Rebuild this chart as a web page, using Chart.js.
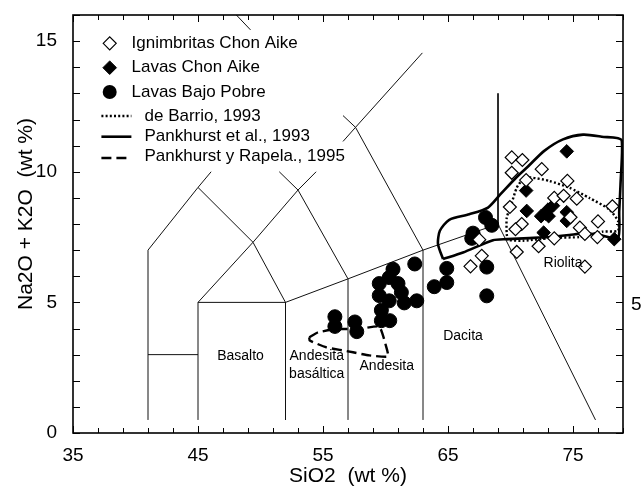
<!DOCTYPE html>
<html>
<head>
<meta charset="utf-8">
<script src="https://cdn.jsdelivr.net/npm/chart.js@4.4.1/dist/chart.umd.min.js"></script>
<style>
  html, body { margin: 0; padding: 0; background: #fff; }
  #wrap { width: 642px; height: 489px; }
</style>
</head>
<body>
<div id="wrap"><canvas id="tas"></canvas></div>
<script>
const xTickLabels = [35, 45, 55, 65, 75];
const yTickLabels = [0, 5, 10, 15];

// samples, [SiO2, Na2O + K2O]
const ignimbritasChonAike = [
  [70.1, 10.55], [70.95, 10.45], [70.1, 9.96], [72.5, 10.1], [71.25, 9.68], [74.55, 9.65],
  [69.95, 8.65], [70.9, 8.0], [70.4, 7.8], [70.5, 6.93], [73.5, 9.0], [74.25, 9.08],
  [75.3, 8.97], [78.15, 8.68], [77.0, 8.1], [74.8, 8.26], [73.5, 7.45], [72.25, 7.15],
  [75.55, 7.86], [75.95, 7.62], [76.95, 7.5], [75.95, 6.37], [66.8, 6.38], [67.7, 6.78],
  [67.5, 7.4]
];
const lavasChonAike = [
  [74.5, 10.78], [71.25, 9.28], [71.3, 8.5], [72.45, 8.3], [73.0, 8.55], [73.4, 8.7],
  [73.05, 8.3], [74.5, 8.45], [74.5, 8.12], [72.65, 7.67], [78.3, 7.42], [72.8, 8.4]
];
const lavasBajoPobre = [
  [55.95, 4.45], [55.95, 4.08], [57.55, 4.25], [57.7, 3.88], [60.6, 6.27], [62.34, 6.47],
  [59.5, 5.72], [61.0, 5.72], [59.5, 5.26], [61.27, 5.38], [60.3, 5.06], [61.5, 4.98],
  [62.5, 5.06], [59.67, 4.7], [59.67, 4.3], [60.34, 4.3], [60.3, 5.95], [63.9, 5.6],
  [64.9, 5.76], [64.9, 6.3], [66.9, 7.45], [67.0, 7.65], [68.0, 8.25], [68.5, 7.95],
  [68.1, 6.35], [68.1, 5.25]
];

// outlines of earlier work
const deBarrio1993 = [
  [69.8, 7.38], [69.7, 7.61], [69.7, 8.24], [70.07, 8.76], [70.5, 9.39], [71.0, 9.71],
  [71.6, 9.78], [73.1, 9.65], [74.7, 9.39], [76.3, 9.0], [77.9, 8.56], [78.6, 8.12],
  [78.6, 7.74], [77.4, 7.71], [75.5, 7.5], [73.7, 7.48], [71.0, 7.36], [69.8, 7.38]
];
const pankhurst1993 = [
  [64.6, 6.66], [64.2, 7.23], [64.35, 7.74], [65.1, 8.16], [66.7, 8.37], [68.2, 8.63],
  [69.2, 9.14], [70.5, 9.8], [71.4, 10.2], [72.7, 10.8], [74.2, 11.24], [75.8, 11.42],
  [77.3, 11.34], [78.9, 11.2], [78.8, 9.5], [78.7, 8.5], [78.6, 7.45], [77.4, 7.55],
  [76.1, 7.64], [74.7, 7.58], [73.1, 7.5], [71.5, 7.46], [69.7, 7.42], [68.6, 7.38],
  [66.2, 6.91], [64.6, 6.66]
];
const pankhurstRapela1995 = [
  [53.9, 3.66], [54.6, 3.85], [56.07, 3.98], [57.9, 3.98], [59.5, 4.07], [60.07, 3.28],
  [60.2, 2.93], [58.7, 2.97], [57.4, 3.09], [55.27, 3.28], [53.94, 3.54], [53.9, 3.66]
];

// TAS field boundaries (visible parts, the legend hides the rest)
const tasLines = [
  [[41, 0.5], [41, 7], [45, 9.4], [46.05, 10.0]],
  [[41, 3], [45, 3]],
  [[45, 0.5], [45, 5], [52, 5], [52, 0.5]],
  [[45, 9.4], [49.4, 7.3], [52, 5]],
  [[45, 5], [49.4, 7.3], [53, 9.3], [54.45, 10.0]],
  [[51.5, 10.0], [53, 9.3], [57, 5.9]],
  [[52, 5], [57, 5.9], [63, 7], [69, 8]],
  [[57, 0.5], [57, 5.9]],
  [[63, 0.5], [63, 7]],
  [[63, 7], [57.6, 11.7], [56.6, 12.15]],
  [[56.6, 11.16], [57.6, 11.7], [62.95, 14.55]],
  [[48.07, 16], [49.2, 15.43]],
  [[69, 13], [69, 8], [76.8, 0.5]]
];

const fieldNames = ["Basalto", ["Andesita", "basáltica"], "Andesita", "Dacita", "Riolita"];

const FONT = "'Liberation Sans', Arial, Helvetica, sans-serif";
Chart.defaults.font.family = FONT;
Chart.defaults.color = "#000";

const pts = (arr) => arr.map(([x, y]) => ({ x, y }));

const datasets = [
  {
    label: "Ignimbritas Chon Aike", data: pts(ignimbritasChonAike), order: 0,
    pointStyle: "rectRot", pointRadius: 6.5, backgroundColor: "#fff", borderColor: "#000", borderWidth: 1.2,
  },
  {
    label: "Lavas Chon Aike", data: pts(lavasChonAike), order: 0,
    pointStyle: "rectRot", pointRadius: 6.8, backgroundColor: "#000", borderColor: "#000", borderWidth: 1,
  },
  {
    label: "Lavas Bajo Pobre", data: pts(lavasBajoPobre), order: 0,
    pointStyle: "circle", pointRadius: 7, backgroundColor: "#000", borderColor: "#000", borderWidth: 1,
  },
  {
    label: "de Barrio, 1993", data: pts(deBarrio1993), order: 1, showLine: true, pointRadius: 0,
    borderColor: "#000", borderWidth: 2.4, borderDash: [2, 2.2], tension: 0.2,
  },
  {
    label: "Pankhurst et al., 1993", data: pts(pankhurst1993), order: 1, showLine: true, pointRadius: 0,
    borderColor: "#000", borderWidth: 2.6, tension: 0.25,
  },
  {
    label: "Pankhurst y Rapela., 1995", data: pts(pankhurstRapela1995), order: 1, showLine: true, pointRadius: 0,
    borderColor: "#000", borderWidth: 2.4, borderDash: [10, 5], tension: 0.15,
  },
  ...tasLines.map((seg) => ({
    label: "", data: pts(seg), order: 2, showLine: true, pointRadius: 0,
    borderColor: "#111", borderWidth: 1, isField: true,
  })),
];

const fieldLabelAt = [[48.4, 2.93], [54.5, 2.96], [60.1, 2.55], [66.2, 3.72], [74.2, 6.5]];

const framePlugin = {
  id: "frame",
  afterDatasetsDraw(chart) {
    const { ctx, chartArea: a, scales: { x, y } } = chart;
    ctx.save();
    ctx.strokeStyle = "#000";
    ctx.lineWidth = 1;
    x.ticks.forEach((t) => {
      const px = Math.round(x.getPixelForValue(t.value)) + 0.5;
      const len = xTickLabels.includes(t.value) ? 7 : 5;
      ctx.beginPath();
      ctx.moveTo(px, a.bottom); ctx.lineTo(px, a.bottom - len);
      ctx.moveTo(px, a.top); ctx.lineTo(px, a.top + len);
      ctx.stroke();
    });
    y.ticks.forEach((t) => {
      const py = Math.round(y.getPixelForValue(t.value)) + 0.5;
      ctx.beginPath();
      ctx.moveTo(a.left, py); ctx.lineTo(a.left + 7, py);
      ctx.moveTo(a.right, py); ctx.lineTo(a.right - 7, py);
      ctx.stroke();
    });
    ctx.lineWidth = 1.6;
    ctx.strokeRect(a.left, a.top, a.right - a.left, a.bottom - a.top);

    // field names
    ctx.fillStyle = "#000";
    ctx.font = "14px " + FONT;
    ctx.textAlign = "center";
    ctx.textBaseline = "middle";
    fieldNames.forEach((name, i) => {
      const [vx, vy] = fieldLabelAt[i];
      const lines = Array.isArray(name) ? name : [name];
      lines.forEach((ln, j) => {
        ctx.fillText(ln, x.getPixelForValue(vx), y.getPixelForValue(vy) + j * 18);
      });
    });

    // y title, sits a little above the middle
    ctx.font = "21px " + FONT;
    ctx.save();
    ctx.translate(26, (a.top + a.bottom) / 2 - 10);
    ctx.rotate(-Math.PI / 2);
    ctx.fillText("Na2O + K2O  (wt %)", 0, 0);
    ctx.restore();

    // stray label cut off at the right edge
    ctx.font = "19px " + FONT;
    ctx.textAlign = "left";
    ctx.fillText("5", a.right + 8, y.getPixelForValue(5) + 2);
    ctx.restore();
  },
};

const legendPlugin = {
  id: "tasLegend",
  afterDatasetsDraw(chart) {
    const { ctx, chartArea: a } = chart;
    const rowsY = [28.3, 52.7, 77, 101, 121.7, 143];
    ctx.save();
    ctx.font = "17px " + FONT;
    ctx.textBaseline = "middle";
    ctx.textAlign = "left";
    chart.data.datasets.filter((d) => !d.isField).forEach((d, i) => {
      const cy = a.top + rowsY[i];
      const mx = a.left + 36.7;
      ctx.strokeStyle = "#000";
      ctx.fillStyle = d.backgroundColor || "#000";
      if (d.showLine) {
        ctx.lineWidth = d.borderWidth;
        ctx.setLineDash(d.borderDash || []);
        ctx.beginPath();
        ctx.moveTo(a.left + 28.4, cy);
        ctx.lineTo(a.left + 58.4, cy);
        ctx.stroke();
        ctx.setLineDash([]);
      } else if (d.pointStyle === "circle") {
        ctx.beginPath();
        ctx.arc(mx, cy, d.pointRadius, 0, Math.PI * 2);
        ctx.fill();
      } else {
        const r = d.pointRadius;
        ctx.lineWidth = d.borderWidth;
        ctx.beginPath();
        ctx.moveTo(mx - r, cy); ctx.lineTo(mx, cy - r); ctx.lineTo(mx + r, cy); ctx.lineTo(mx, cy + r);
        ctx.closePath();
        ctx.fill();
        ctx.stroke();
      }
      ctx.fillStyle = "#000";
      const tx = d.showLine ? a.left + 71.5 : a.left + 58.5;
      ctx.fillText(d.label, tx, cy + (i === 5 ? -2 : 0));
    });
    ctx.restore();
  },
};

new Chart(document.getElementById("tas"), {
  type: "scatter",
  data: { datasets },
  options: {
    responsive: true,
    maintainAspectRatio: false,
    animation: false,
    events: [],
    layout: { padding: { top: 15, right: 19, left: 0, bottom: 0 } },
    plugins: { legend: { display: false }, tooltip: { enabled: false } },
    scales: {
      x: {
        type: "linear", min: 35, max: 79,
        afterBuildTicks: (s) => {
          const t = [];
          for (let v = 35; v <= 79; v += 2) t.push({ value: v });
          s.ticks = t;
        },
        afterFit: (s) => { s.height = 56; s.paddingLeft = 0; s.paddingRight = 0; },
        grid: { display: false, drawTicks: false },
        border: { display: false },
        ticks: {
          autoSkip: false, maxRotation: 0, padding: 11,
          font: { size: 19 },
          callback: (v) => (xTickLabels.includes(v) ? String(v) : ""),
        },
        title: { display: true, text: "SiO2  (wt %)", font: { size: 21 }, padding: { top: 0, bottom: 0 } },
      },
      y: {
        type: "linear", min: 0, max: 16,
        afterBuildTicks: (s) => {
          const t = [];
          for (let v = 0; v <= 16; v += 1) t.push({ value: v });
          s.ticks = t;
        },
        afterFit: (s) => { s.width = 73; s.paddingTop = 0; s.paddingBottom = 0; },
        grid: { display: false, drawTicks: false },
        border: { display: false },
        ticks: {
          autoSkip: false, padding: 16,
          font: { size: 19 },
          callback: (v) => (yTickLabels.includes(v) ? String(v) : ""),
        },
      },
    },
  },
  plugins: [framePlugin, legendPlugin],
});
</script>
</body>
</html>
